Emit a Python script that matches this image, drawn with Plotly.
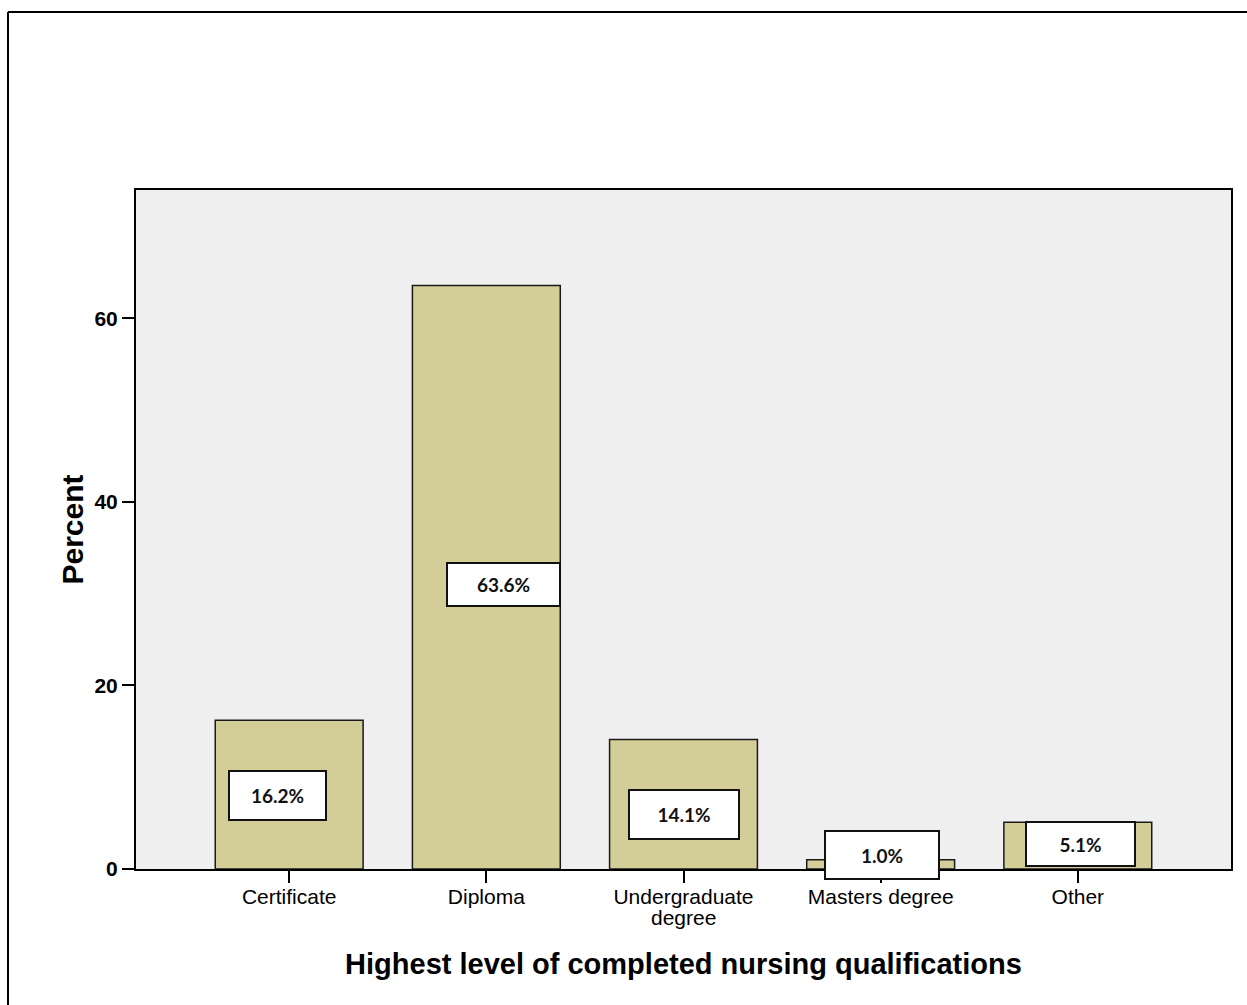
import plotly.graph_objects as go

categories = ["Certificate", "Diploma", "Undergraduate", "Masters degree", "Other"]
category_second_line = ["", "", "degree", "", ""]
percents = [16.2, 63.6, 14.1, 1.0, 5.1]
value_labels = ["16.2%", "63.6%", "14.1%", "1.0%", "5.1%"]
y_ticks = [0, 20, 40, 60]

W, H = 1247, 1005
L, R, T, B = 136, 16, 190, 136
pw, ph = W - L - R, H - T - B

fig = go.Figure()
fig.add_trace(go.Bar(
    x=list(range(len(categories))), y=percents, width=0.75,
    marker=dict(color="#D3CE97", line=dict(color="#1a1a1a", width=1.5)),
    hoverinfo="skip",
))

# label placement styling (pixel offsets from bar midpoint)
label_xshift = [-12, 17, 0, 1, 3]
label_yshift = [-1, -7, -10, -10, 0]
label_min_px = [0, 0, 0, 24, 25]
label_w = [95, 111, 108, 112, 107]
label_h = [47, 41, 47, 46, 42]
px_per_unit = ph / 74.0
for i, (v, t) in enumerate(zip(percents, value_labels)):
    base = v * 0.5
    ys = label_yshift[i] + max(0, label_min_px[i] - base * px_per_unit)
    fig.add_annotation(
        x=i, y=base, xref="x", yref="y", text="<b>" + t + "</b>",
        showarrow=False, xshift=label_xshift[i], yshift=ys,
        font=dict(family="Lato, Open Sans, sans-serif", size=19, color="#111"),
        bgcolor="white", bordercolor="#111", borderwidth=2, borderpad=0,
        width=label_w[i], height=label_h[i], align="center", valign="middle",
    )

# second line of wrapped category labels
for i, s in enumerate(category_second_line):
    if s:
        fig.add_annotation(
            x=i, y=0, xref="x", yref="paper", text=s, showarrow=False,
            yanchor="top", yshift=-35,
            font=dict(size=21, family="Liberation Sans, Arial, sans-serif", color="black"),
        )

# outer frame (top and left edges)
x0 = (8 - L) / pw
y0 = (H - B - 12) / ph
fig.add_shape(type="line", xref="paper", yref="paper", x0=x0, x1=1.1, y0=y0, y1=y0,
              line=dict(color="black", width=2))
fig.add_shape(type="line", xref="paper", yref="paper", x0=x0, x1=x0, y0=y0, y1=-0.3,
              line=dict(color="black", width=2))

fig.update_layout(
    width=W, height=H,
    margin=dict(l=L, r=R, t=T, b=B, pad=0),
    paper_bgcolor="white", plot_bgcolor="#EFEFEF",
    showlegend=False, bargap=0.25,
    font=dict(family="Liberation Sans, Arial, sans-serif", color="black"),
)
fig.update_xaxes(
    range=[-0.777, 4.777], tickmode="array", tickvals=list(range(len(categories))),
    ticktext=categories, ticks="outside", ticklen=12, tickwidth=2, tickcolor="black",
    showline=True, linecolor="black", linewidth=2, mirror=True, showgrid=False,
    tickfont=dict(size=21, family="Liberation Sans, Arial, sans-serif"),
    ticklabelstandoff=-4,
    title=dict(text="<b>Highest level of completed nursing qualifications</b>",
               font=dict(size=29), standoff=46),
    zeroline=False,
)
fig.update_yaxes(
    range=[0, 74], tickmode="array", tickvals=y_ticks,
    ticktext=["<b>" + str(v) + "</b>" for v in y_ticks],
    ticks="outside", ticklen=12, tickwidth=2, tickcolor="black",
    showline=True, linecolor="black", linewidth=2, mirror=True, showgrid=False,
    tickfont=dict(size=21), zeroline=False,
    title=dict(text="<b>Percent</b>", font=dict(size=30), standoff=2),
)

fig.write_html(
    "out.html",
    config={"displayModeBar": False},
    post_script="document.body.style.margin='0';document.body.style.overflow='hidden';",
)
